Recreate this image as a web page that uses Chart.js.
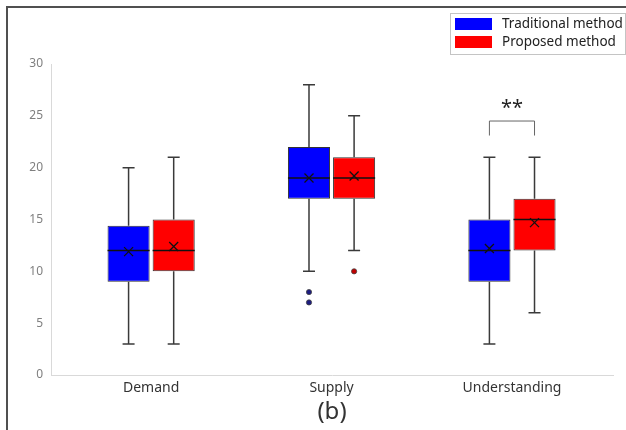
<!DOCTYPE html>
<html>
<head>
<meta charset="utf-8">
<script src="https://cdn.jsdelivr.net/npm/chart.js@4.4.1/dist/chart.umd.min.js"></script>
<style>
  body { margin: 0; background: #fff; }
  #wrap { position: relative; width: 626px; height: 430px; }
  #frame { position: absolute; left: 6px; top: 6px; right: 0; bottom: 0;
           border-left: 2px solid #505050; border-top: 2px solid #505050; pointer-events: none; }
  canvas { position: absolute; left: 0; top: 0; }
</style>
</head>
<body>
<div id="wrap">
  <canvas id="boxChart" width="626" height="430"></canvas>
  <div id="frame"></div>
</div>
<script>
// categories and box-plot statistics
const categories = ['Demand', 'Supply', 'Understanding'];

const tradMin      = [3, 10, 3];
const tradQ1       = [9, 17, 9];
const tradMedian   = [12, 19, 12];
const tradQ3       = [14.4, 22, 15];
const tradMax      = [20, 28, 21];
const tradMean     = [11.9, 19, 12.2];
const tradOutliers = [[], [8, 7], []];

const propMin      = [3, 12, 6];
const propQ1       = [10, 17, 12];
const propMedian   = [12, 19, 15];
const propQ3       = [15, 21, 17];
const propMax      = [21, 25, 21];
const propMean     = [12.4, 19.2, 14.7];
const propOutliers = [[], [10], []];

const yTicks = [0, 5, 10, 15, 20, 25, 30];

// significance bracket: category index, label, bracket level and leg end
const sigCategory = 2;
const sigLabel = '**';
const sigLevel = 24.5;
const sigLegEnd = 23.1;

const FONT = "'Noto Sans', 'Open Sans', sans-serif";

function boxData(q1, q3) {
    return categories.map((c, i) => ({ x: i, y: [q1[i], q3[i]] }));
}

// whiskers, medians, means and outliers drawn on top of the floating bars
const boxDetails = {
    id: 'boxDetails',
    afterDatasetsDraw(chart) {
        const ctx = chart.ctx;
        const y = chart.scales.y;
        chart.data.datasets.forEach((ds, di) => {
            const meta = chart.getDatasetMeta(di);
            const s = ds.stats;
            meta.data.forEach((el, i) => {
                const x = el.x;
                const half = el.width / 2;
                ctx.save();
                ctx.strokeStyle = '#3a3a3a';
                ctx.lineWidth = 1.5;
                ctx.beginPath();
                ctx.moveTo(x, y.getPixelForValue(ds.data[i].y[1]));
                ctx.lineTo(x, y.getPixelForValue(s.max[i]));
                ctx.moveTo(x - 6, y.getPixelForValue(s.max[i]));
                ctx.lineTo(x + 6, y.getPixelForValue(s.max[i]));
                ctx.moveTo(x, y.getPixelForValue(ds.data[i].y[0]));
                ctx.lineTo(x, y.getPixelForValue(s.min[i]));
                ctx.moveTo(x - 6, y.getPixelForValue(s.min[i]));
                ctx.lineTo(x + 6, y.getPixelForValue(s.min[i]));
                ctx.stroke();

                // median
                ctx.strokeStyle = '#111';
                ctx.lineWidth = 1.5;
                ctx.beginPath();
                const my = y.getPixelForValue(s.median[i]);
                ctx.moveTo(x - half, my);
                ctx.lineTo(x + half, my);
                ctx.stroke();

                // mean marker
                const ey = y.getPixelForValue(s.mean[i]);
                ctx.lineWidth = 1.3;
                ctx.beginPath();
                ctx.moveTo(x - 4.5, ey - 4.5);
                ctx.lineTo(x + 4.5, ey + 4.5);
                ctx.moveTo(x + 4.5, ey - 4.5);
                ctx.lineTo(x - 4.5, ey + 4.5);
                ctx.stroke();

                // outliers
                s.outliers[i].forEach(v => {
                    ctx.beginPath();
                    ctx.arc(x, y.getPixelForValue(v), 2.6, 0, Math.PI * 2);
                    ctx.fillStyle = ds.outlierColor;
                    ctx.fill();
                    ctx.lineWidth = 0.8;
                    ctx.strokeStyle = '#444';
                    ctx.stroke();
                });
                ctx.restore();
            });
        });

        // significance bracket
        const a = chart.getDatasetMeta(0).data[sigCategory];
        const b = chart.getDatasetMeta(1).data[sigCategory];
        const top = y.getPixelForValue(sigLevel);
        const leg = y.getPixelForValue(sigLegEnd);
        ctx.save();
        ctx.strokeStyle = '#666';
        ctx.lineWidth = 1;
        ctx.beginPath();
        ctx.moveTo(a.x, leg);
        ctx.lineTo(a.x, top);
        ctx.lineTo(b.x, top);
        ctx.lineTo(b.x, leg);
        ctx.stroke();
        ctx.fillStyle = '#222';
        ctx.font = '20px ' + FONT;
        ctx.textAlign = 'center';
        ctx.textBaseline = 'middle';
        ctx.fillText(sigLabel, (a.x + b.x) / 2, top - 13);
        ctx.restore();
    }
};

// legend box in the top right corner
const boxLegend = {
    id: 'boxLegend',
    afterDraw(chart) {
        const ctx = chart.ctx;
        ctx.save();
        ctx.fillStyle = '#fff';
        ctx.fillRect(450, 13, 175, 41);
        ctx.strokeStyle = '#c4c4c4';
        ctx.lineWidth = 1;
        ctx.strokeRect(450.5, 13.5, 175, 41);
        ctx.font = '13.5px ' + FONT;
        ctx.textBaseline = 'middle';
        chart.data.datasets.forEach((ds, i) => {
            const top = 18 + i * 18;
            ctx.fillStyle = ds.backgroundColor;
            ctx.fillRect(455, top, 37, 12);
            ctx.fillStyle = '#222';
            ctx.fillText(ds.label, 502, top + 6);
        });
        ctx.restore();
    }
};

new Chart(document.getElementById('boxChart'), {
    type: 'bar',
    data: {
        datasets: [{
            label: 'Traditional method',
            data: boxData(tradQ1, tradQ3),
            stats: { min: tradMin, median: tradMedian, max: tradMax, mean: tradMean, outliers: tradOutliers },
            backgroundColor: '#0000ff',
            outlierColor: '#1c1c80',
            borderColor: '#333',
            borderWidth: 1,
            borderSkipped: false
        }, {
            label: 'Proposed method',
            data: boxData(propQ1, propQ3),
            stats: { min: propMin, median: propMedian, max: propMax, mean: propMean, outliers: propOutliers },
            backgroundColor: '#ff0000',
            outlierColor: '#c00000',
            borderColor: '#333',
            borderWidth: 1,
            borderSkipped: false
        }]
    },
    options: {
        responsive: false,
        animation: false,
        categoryPercentage: 0.5,
        barPercentage: 0.933,
        layout: { padding: { left: 0, right: 13, top: 64, bottom: 0 } },
        plugins: {
            legend: { display: false },
            tooltip: { enabled: false }
        },
        scales: {
            x: {
                type: 'linear',
                offset: false,
                min: -0.555,
                max: 2.56,
                afterBuildTicks: scale => { scale.ticks = categories.map((c, i) => ({ value: i })); },
                afterFit: scale => { scale.height = 55; },
                ticks: {
                    callback: v => categories[v],
                    color: '#333',
                    padding: 5,
                    font: { family: FONT, size: 14 }
                },
                grid: { display: false, drawTicks: false, offset: false },
                border: { color: '#d9d9d9', width: 1 },
                title: {
                    display: true,
                    text: '(b)',
                    color: '#333',
                    padding: { top: 0, bottom: 3 },
                    font: { family: FONT, size: 24 }
                }
            },
            y: {
                min: 0,
                max: 30,
                afterBuildTicks: scale => { scale.ticks = yTicks.map(v => ({ value: v })); },
                afterFit: scale => { scale.width = 51; },
                ticks: {
                    color: '#7f7f7f',
                    padding: 8,
                    font: { family: FONT, size: 12 }
                },
                grid: { display: false, drawTicks: false },
                border: { color: '#d9d9d9', width: 1 }
            }
        }
    },
    plugins: [boxDetails, boxLegend]
});
</script>
</body>
</html>
